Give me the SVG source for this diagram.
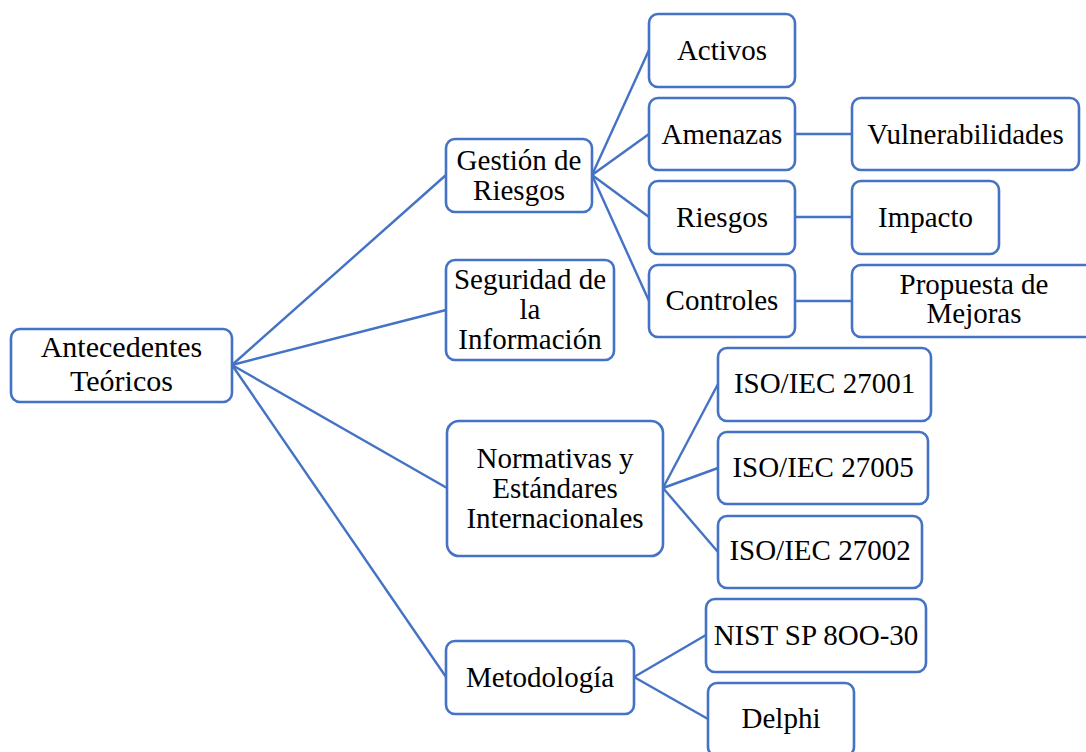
<svg xmlns="http://www.w3.org/2000/svg" width="1086" height="752" viewBox="0 0 1086 752">
<style>
.box{fill:#ffffff;stroke:#4472c4;stroke-width:2.6}
text{font-family:'Liberation Serif',Tinos,'Times New Roman','DejaVu Serif',serif;font-size:29px;fill:#000;text-anchor:middle}
.tr{font-size:30px}
.c line{stroke:#4472c4;stroke-width:2.4}
</style>
<rect width="1086" height="752" fill="#ffffff"/>
<g id="connectors" class="c">
<line x1="232" y1="365" x2="446" y2="175"/>
<line x1="232" y1="365" x2="446" y2="310"/>
<line x1="232" y1="365" x2="447" y2="488"/>
<line x1="232" y1="365" x2="446" y2="677"/>
<line x1="592" y1="175" x2="649" y2="50"/>
<line x1="592" y1="175" x2="649" y2="134"/>
<line x1="592" y1="175" x2="649" y2="217"/>
<line x1="592" y1="175" x2="649" y2="301"/>
<line x1="795" y1="134" x2="852" y2="134"/>
<line x1="795" y1="217" x2="852" y2="217"/>
<line x1="795" y1="301" x2="852" y2="301"/>
<line x1="663" y1="488" x2="718" y2="384"/>
<line x1="663" y1="488" x2="718" y2="468"/>
<line x1="663" y1="488" x2="718" y2="552"/>
<line x1="634" y1="677" x2="706" y2="635"/>
<line x1="634" y1="677" x2="708" y2="719"/>
</g>
<g id="root"><rect class="box" x="11" y="329" width="221" height="73" rx="9"/><text class="tr" x="121.5" y="357">Antecedentes</text><text class="tr" x="121.5" y="391">Teóricos</text></g>
<g id="gestion"><rect class="box" x="446" y="139" width="146" height="73" rx="9"/><text x="519" y="170">Gestión de</text><text x="519" y="200">Riesgos</text></g>
<g id="seguridad"><rect class="box" x="446" y="260" width="168" height="100" rx="9"/><text x="530" y="289">Seguridad de</text><text x="530" y="319">la</text><text x="530" y="349">Información</text></g>
<g id="normativas"><rect class="box" x="447" y="421" width="216" height="135" rx="12"/><text x="555" y="468">Normativas y</text><text x="555" y="498">Estándares</text><text x="555" y="528">Internacionales</text></g>
<g id="metodologia"><rect class="box" x="446" y="641" width="188" height="73" rx="9"/><text x="540" y="687">Metodología</text></g>
<g id="activos"><rect class="box" x="649" y="14" width="146" height="73" rx="9"/><text x="722" y="60">Activos</text></g>
<g id="amenazas"><rect class="box" x="649" y="98" width="146" height="72" rx="9"/><text x="722" y="144">Amenazas</text></g>
<g id="riesgos"><rect class="box" x="649" y="181" width="146" height="73" rx="9"/><text x="722" y="227">Riesgos</text></g>
<g id="controles"><rect class="box" x="649" y="265" width="146" height="72" rx="9"/><text x="722" y="310">Controles</text></g>
<g id="vulnerabilidades"><rect class="box" x="852" y="98" width="227" height="72" rx="9"/><text x="965.5" y="144">Vulnerabilidades</text></g>
<g id="impacto"><rect class="box" x="852" y="181" width="147" height="73" rx="9"/><text x="925.5" y="227">Impacto</text></g>
<g id="propuesta"><rect class="box" x="852" y="265" width="244" height="72" rx="9"/><text x="974" y="294">Propuesta de</text><text x="974" y="323">Mejoras</text></g>
<g id="iso27001"><rect class="box" x="718" y="348" width="213" height="73" rx="9"/><text x="824.5" y="393">ISO/IEC 27001</text></g>
<g id="iso27005"><rect class="box" x="718" y="432" width="210" height="72" rx="9"/><text x="823" y="477">ISO/IEC 27005</text></g>
<g id="iso27002"><rect class="box" x="718" y="516" width="204" height="72" rx="9"/><text x="820" y="560">ISO/IEC 27002</text></g>
<g id="nist"><rect class="box" x="706" y="599" width="220" height="73" rx="9"/><text x="816" y="645">NIST SP 8OO-30</text></g>
<g id="delphi"><rect class="box" x="708" y="683" width="146" height="73" rx="9"/><text x="781" y="728">Delphi</text></g>
</svg>
